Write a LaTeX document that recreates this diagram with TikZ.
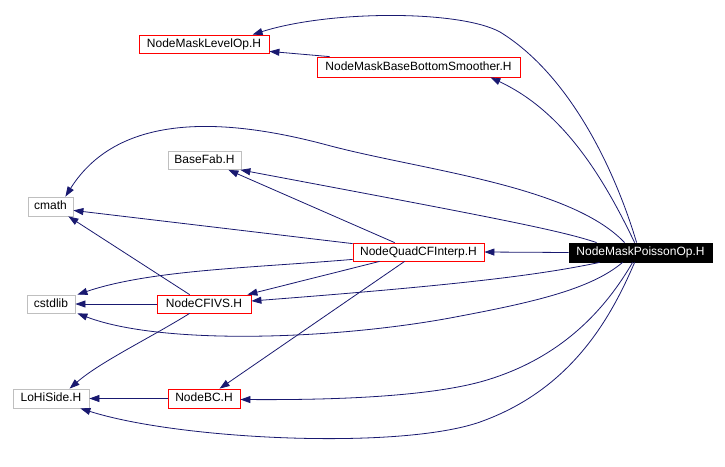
\documentclass[tikz,border=0pt]{standalone}
\usepackage{fontspec}
\setmainfont{Liberation Sans}
\usetikzlibrary{arrows.meta}
\definecolor{edgec}{HTML}{191970}
\definecolor{gboxc}{HTML}{BFBFBF}
\begin{document}
\begin{tikzpicture}[x=1pt,y=-1pt,
  box/.style={draw, rectangle, inner sep=0pt, line width=0.8pt,
    font=\fontsize{12}{14}\selectfont, text height=9pt, text depth=3pt},
  graybox/.style={box, draw=gboxc},
  redbox/.style={box, draw=red},
  mainbox/.style={box, draw=black, fill=black, text=white},
  dep/.style={draw=edgec, line width=0.8pt, -{Triangle[length=10pt,width=7pt]}}]
\useasboundingbox (0,0) rectangle (725,466);
\fill[white] (0,0) rectangle (725,466);

% nodes
\node[redbox, minimum width=130pt, minimum height=18pt] (levelop) at (204,44) {NodeMaskLevelOp.H};
\node[redbox, minimum width=203pt, minimum height=20pt] (smoother) at (418.5,67) {NodeMaskBaseBottomSmoother.H};
\node[graybox, minimum width=73pt, minimum height=18pt] (basefab) at (204.5,160.5) {BaseFab.H};
\node[graybox, minimum width=45pt, minimum height=19pt] (cmath) at (50.5,206.5) {cmath};
\node[redbox, minimum width=131pt, minimum height=18pt] (quadcf) at (418.5,252) {NodeQuadCFInterp.H};
\node[mainbox, minimum width=143pt, minimum height=19pt] (poisson) at (640.5,252.5) {NodeMaskPoissonOp.H};
\node[graybox, minimum width=48pt, minimum height=18pt] (cstdlib) at (51,304) {cstdlib};
\node[redbox, minimum width=94pt, minimum height=18pt] (cfivs) at (204,304) {NodeCFIVS.H};
\node[graybox, minimum width=76pt, minimum height=19pt] (lohiside) at (51,398.5) {LoHiSide.H};
\node[redbox, minimum width=72pt, minimum height=19pt] (nodebc) at (204,398.5) {NodeBC.H};

% edges from NodeMaskPoissonOp.H
\draw[dep] ([xshift=68pt]poisson.north west) .. controls (615,170) and (570,75) .. (500,32)
  .. controls (460,10) and (330,10) .. ([xshift=114pt]levelop.north west);
\draw[dep] ([xshift=66pt]poisson.north west) .. controls (600,170) and (560,110) .. ([xshift=-30pt]smoother.south east);
\draw[dep] ([xshift=56pt]poisson.north west) .. controls (570,185) and (420,170) .. (327,145)
  .. controls (230,119) and (120,110) .. ([xshift=-8pt]cmath.north east);
\draw[dep] ([xshift=28pt]poisson.north west) .. controls (560,230) and (480,215) .. ([xshift=-1pt]basefab.south east);
\draw[dep] (poisson.west) -- (quadcf.east);
\draw[dep] ([xshift=31pt]poisson.south west) .. controls (540,275) and (460,285) .. ([yshift=3pt]cfivs.east);
\draw[dep] ([xshift=54pt]poisson.south west) .. controls (590,290) and (530,303) .. (450,318)
  .. controls (330,340) and (160,345) .. ([xshift=2pt]cstdlib.south east);
\draw[dep] ([xshift=64pt]poisson.south west) .. controls (605,310) and (560,360) .. (480,382)
  .. controls (420,398) and (320,400) .. ([yshift=-1pt]nodebc.east);
\draw[dep] ([xshift=66pt]poisson.south west) .. controls (610,320) and (570,390) .. (480,422)
  .. controls (400,450) and (180,440) .. ([xshift=-9pt]lohiside.south east);

% other edges
\draw[dep] ([xshift=13pt]smoother.north west) -- ([yshift=2pt]levelop.south east);
\draw[dep] ([xshift=42pt]quadcf.north west) -- ([xshift=-13pt]basefab.south east);
\draw[dep] ([yshift=-1pt]quadcf.north west) -- ([yshift=6pt]cmath.south east);
\draw[dep] ([yshift=2pt]quadcf.south west) .. controls (250,268) and (150,270) .. ([xshift=2pt]cstdlib.north east);
\draw[dep] ([xshift=27pt]quadcf.south west) -- ([xshift=-4pt]cfivs.north east);
\draw[dep] ([xshift=52pt]quadcf.south west) -- ([xshift=52pt]nodebc.north west);
\draw[dep] ([xshift=33pt]cfivs.north west) -- ([xshift=-5pt]cmath.south east);
\draw[dep] (cfivs.west) -- (cstdlib.east);
\draw[dep] ([xshift=33pt]cfivs.south west) .. controls (150,338) and (100,362) .. ([xshift=57pt]lohiside.north west);
\draw[dep] (nodebc.west) -- (lohiside.east);
\end{tikzpicture}
\end{document}
